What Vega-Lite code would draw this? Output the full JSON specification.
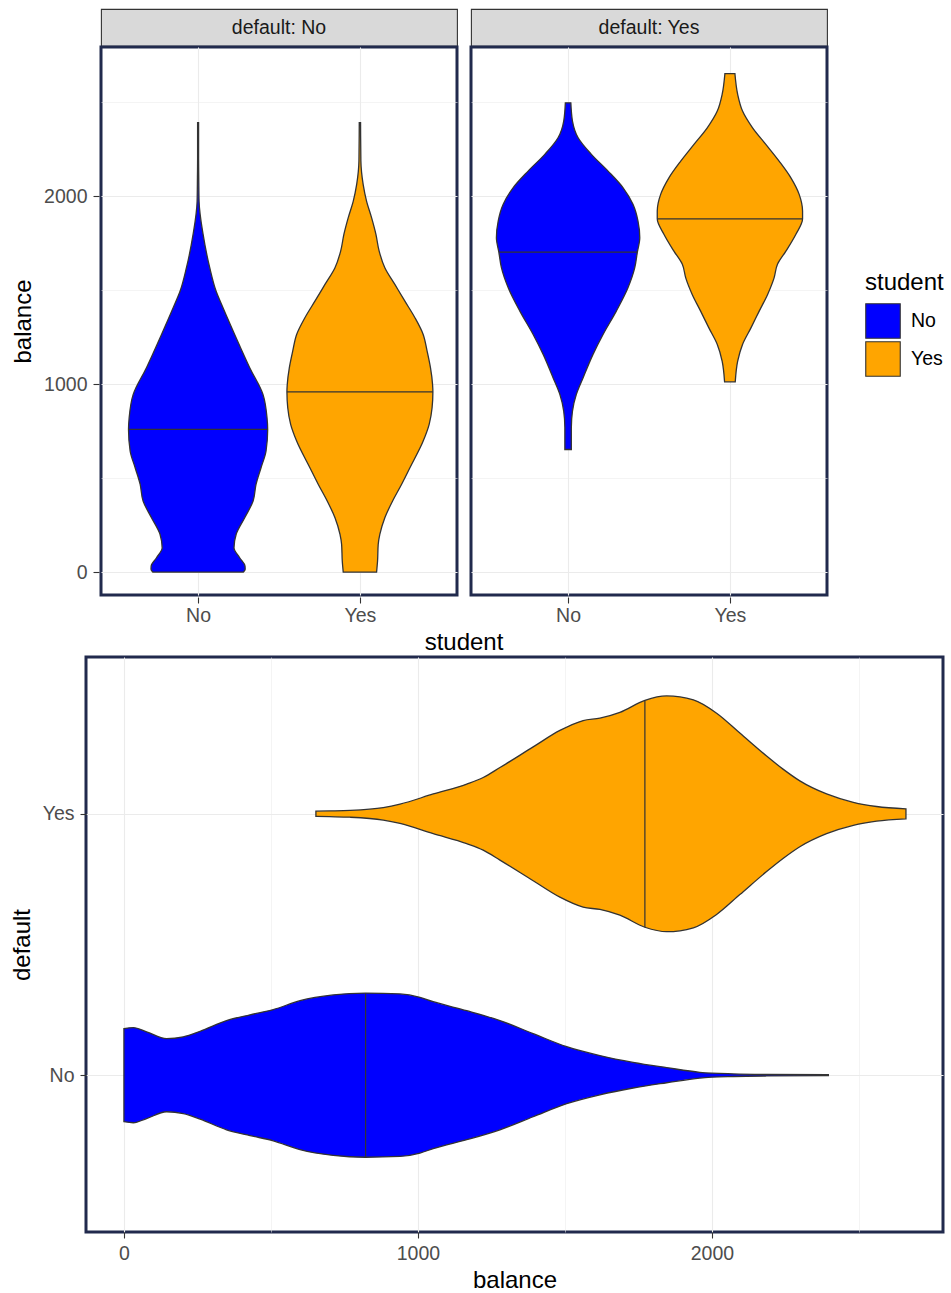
{
  "$schema": "https://vega.github.io/schema/vega-lite/v6.json",
  "background": "white",
  "padding": {"left": 8, "top": 3, "right": 5, "bottom": 5},
  "config": {
    "font": "Liberation Sans",
    "view": {"stroke": "#333333", "strokeWidth": 1.1},
    "axis": {
      "domain": false,
      "gridColor": "#ebebeb",
      "tickColor": "#333333",
      "tickSize": 6,
      "tickWidth": 1.1,
      "labelFontSize": 19.5,
      "labelColor": "#4d4d4d",
      "labelPadding": 6,
      "titleFontSize": 24,
      "titleColor": "#000000",
      "titleFontWeight": "normal",
      "titlePadding": 8
    },
    "legend": {
      "titleFontSize": 24,
      "titleFontWeight": "normal",
      "titleColor": "#000000",
      "labelFontSize": 19.5,
      "labelColor": "#000000"
    }
  },
  "datasets": {
    "strips": [
      {"default": "No", "label": "default: No"},
      {"default": "Yes", "label": "default: Yes"}
    ],
    "top": [
      {"default": "No", "student": "No", "kind": "o", "balance": 0, "hw": 0.280},
      {"default": "No", "student": "No", "kind": "o", "balance": 15, "hw": 0.291},
      {"default": "No", "student": "No", "kind": "o", "balance": 32, "hw": 0.290},
      {"default": "No", "student": "No", "kind": "o", "balance": 76, "hw": 0.257},
      {"default": "No", "student": "No", "kind": "o", "balance": 129, "hw": 0.222},
      {"default": "No", "student": "No", "kind": "o", "balance": 200, "hw": 0.235},
      {"default": "No", "student": "No", "kind": "o", "balance": 289, "hw": 0.288},
      {"default": "No", "student": "No", "kind": "o", "balance": 378, "hw": 0.340},
      {"default": "No", "student": "No", "kind": "o", "balance": 466, "hw": 0.358},
      {"default": "No", "student": "No", "kind": "o", "balance": 555, "hw": 0.389},
      {"default": "No", "student": "No", "kind": "o", "balance": 644, "hw": 0.420},
      {"default": "No", "student": "No", "kind": "o", "balance": 759, "hw": 0.430},
      {"default": "No", "student": "No", "kind": "o", "balance": 821, "hw": 0.426},
      {"default": "No", "student": "No", "kind": "o", "balance": 945, "hw": 0.401},
      {"default": "No", "student": "No", "kind": "o", "balance": 1087, "hw": 0.319},
      {"default": "No", "student": "No", "kind": "o", "balance": 1264, "hw": 0.226},
      {"default": "No", "student": "No", "kind": "o", "balance": 1406, "hw": 0.154},
      {"default": "No", "student": "No", "kind": "o", "balance": 1495, "hw": 0.111},
      {"default": "No", "student": "No", "kind": "o", "balance": 1619, "hw": 0.072},
      {"default": "No", "student": "No", "kind": "o", "balance": 1796, "hw": 0.031},
      {"default": "No", "student": "No", "kind": "o", "balance": 1973, "hw": 0.006},
      {"default": "No", "student": "No", "kind": "o", "balance": 2100, "hw": 0.004},
      {"default": "No", "student": "No", "kind": "o", "balance": 2200, "hw": 0.003},
      {"default": "No", "student": "No", "kind": "o", "balance": 2390, "hw": 0.003},
      {"default": "No", "student": "No", "kind": "m", "balance": 759, "hw": 0.428},

      {"default": "No", "student": "Yes", "kind": "o", "balance": 0, "hw": 0.103},
      {"default": "No", "student": "Yes", "kind": "o", "balance": 59, "hw": 0.109},
      {"default": "No", "student": "Yes", "kind": "o", "balance": 147, "hw": 0.113},
      {"default": "No", "student": "Yes", "kind": "o", "balance": 200, "hw": 0.123},
      {"default": "No", "student": "Yes", "kind": "o", "balance": 289, "hw": 0.154},
      {"default": "No", "student": "Yes", "kind": "o", "balance": 378, "hw": 0.202},
      {"default": "No", "student": "Yes", "kind": "o", "balance": 466, "hw": 0.257},
      {"default": "No", "student": "Yes", "kind": "o", "balance": 555, "hw": 0.309},
      {"default": "No", "student": "Yes", "kind": "o", "balance": 697, "hw": 0.391},
      {"default": "No", "student": "Yes", "kind": "o", "balance": 786, "hw": 0.428},
      {"default": "No", "student": "Yes", "kind": "o", "balance": 874, "hw": 0.446},
      {"default": "No", "student": "Yes", "kind": "o", "balance": 959, "hw": 0.451},
      {"default": "No", "student": "Yes", "kind": "o", "balance": 998, "hw": 0.449},
      {"default": "No", "student": "Yes", "kind": "o", "balance": 1087, "hw": 0.436},
      {"default": "No", "student": "Yes", "kind": "o", "balance": 1176, "hw": 0.415},
      {"default": "No", "student": "Yes", "kind": "o", "balance": 1264, "hw": 0.391},
      {"default": "No", "student": "Yes", "kind": "o", "balance": 1353, "hw": 0.340},
      {"default": "No", "student": "Yes", "kind": "o", "balance": 1441, "hw": 0.278},
      {"default": "No", "student": "Yes", "kind": "o", "balance": 1530, "hw": 0.216},
      {"default": "No", "student": "Yes", "kind": "o", "balance": 1619, "hw": 0.154},
      {"default": "No", "student": "Yes", "kind": "o", "balance": 1707, "hw": 0.119},
      {"default": "No", "student": "Yes", "kind": "o", "balance": 1796, "hw": 0.099},
      {"default": "No", "student": "Yes", "kind": "o", "balance": 1885, "hw": 0.072},
      {"default": "No", "student": "Yes", "kind": "o", "balance": 1973, "hw": 0.041},
      {"default": "No", "student": "Yes", "kind": "o", "balance": 2062, "hw": 0.020},
      {"default": "No", "student": "Yes", "kind": "o", "balance": 2186, "hw": 0.006},
      {"default": "No", "student": "Yes", "kind": "o", "balance": 2390, "hw": 0.004},
      {"default": "No", "student": "Yes", "kind": "m", "balance": 959, "hw": 0.451},

      {"default": "Yes", "student": "No", "kind": "o", "balance": 652, "hw": 0.020},
      {"default": "Yes", "student": "No", "kind": "o", "balance": 768, "hw": 0.020},
      {"default": "Yes", "student": "No", "kind": "o", "balance": 856, "hw": 0.027},
      {"default": "Yes", "student": "No", "kind": "o", "balance": 945, "hw": 0.051},
      {"default": "Yes", "student": "No", "kind": "o", "balance": 1034, "hw": 0.093},
      {"default": "Yes", "student": "No", "kind": "o", "balance": 1158, "hw": 0.154},
      {"default": "Yes", "student": "No", "kind": "o", "balance": 1264, "hw": 0.216},
      {"default": "Yes", "student": "No", "kind": "o", "balance": 1388, "hw": 0.298},
      {"default": "Yes", "student": "No", "kind": "o", "balance": 1512, "hw": 0.370},
      {"default": "Yes", "student": "No", "kind": "o", "balance": 1619, "hw": 0.412},
      {"default": "Yes", "student": "No", "kind": "o", "balance": 1702, "hw": 0.428},
      {"default": "Yes", "student": "No", "kind": "o", "balance": 1778, "hw": 0.443},
      {"default": "Yes", "student": "No", "kind": "o", "balance": 1867, "hw": 0.432},
      {"default": "Yes", "student": "No", "kind": "o", "balance": 1956, "hw": 0.401},
      {"default": "Yes", "student": "No", "kind": "o", "balance": 2044, "hw": 0.340},
      {"default": "Yes", "student": "No", "kind": "o", "balance": 2133, "hw": 0.247},
      {"default": "Yes", "student": "No", "kind": "o", "balance": 2222, "hw": 0.144},
      {"default": "Yes", "student": "No", "kind": "o", "balance": 2310, "hw": 0.062},
      {"default": "Yes", "student": "No", "kind": "o", "balance": 2399, "hw": 0.027},
      {"default": "Yes", "student": "No", "kind": "o", "balance": 2496, "hw": 0.017},
      {"default": "Yes", "student": "No", "kind": "m", "balance": 1702, "hw": 0.426},

      {"default": "Yes", "student": "Yes", "kind": "o", "balance": 1012, "hw": 0.033},
      {"default": "Yes", "student": "Yes", "kind": "o", "balance": 1122, "hw": 0.048},
      {"default": "Yes", "student": "Yes", "kind": "o", "balance": 1211, "hw": 0.078},
      {"default": "Yes", "student": "Yes", "kind": "o", "balance": 1299, "hw": 0.130},
      {"default": "Yes", "student": "Yes", "kind": "o", "balance": 1388, "hw": 0.181},
      {"default": "Yes", "student": "Yes", "kind": "o", "balance": 1477, "hw": 0.233},
      {"default": "Yes", "student": "Yes", "kind": "o", "balance": 1565, "hw": 0.273},
      {"default": "Yes", "student": "Yes", "kind": "o", "balance": 1637, "hw": 0.294},
      {"default": "Yes", "student": "Yes", "kind": "o", "balance": 1707, "hw": 0.346},
      {"default": "Yes", "student": "Yes", "kind": "o", "balance": 1796, "hw": 0.407},
      {"default": "Yes", "student": "Yes", "kind": "o", "balance": 1879, "hw": 0.449},
      {"default": "Yes", "student": "Yes", "kind": "o", "balance": 1920, "hw": 0.449},
      {"default": "Yes", "student": "Yes", "kind": "o", "balance": 2009, "hw": 0.428},
      {"default": "Yes", "student": "Yes", "kind": "o", "balance": 2097, "hw": 0.377},
      {"default": "Yes", "student": "Yes", "kind": "o", "balance": 2186, "hw": 0.304},
      {"default": "Yes", "student": "Yes", "kind": "o", "balance": 2275, "hw": 0.222},
      {"default": "Yes", "student": "Yes", "kind": "o", "balance": 2363, "hw": 0.140},
      {"default": "Yes", "student": "Yes", "kind": "o", "balance": 2452, "hw": 0.078},
      {"default": "Yes", "student": "Yes", "kind": "o", "balance": 2541, "hw": 0.048},
      {"default": "Yes", "student": "Yes", "kind": "o", "balance": 2651, "hw": 0.031},
      {"default": "Yes", "student": "Yes", "kind": "m", "balance": 1879, "hw": 0.449}
    ],
    "bottom": [
      {"default": "No", "kind": "o", "balance": 0, "hw": 0.178},
      {"default": "No", "kind": "o", "balance": 32, "hw": 0.182},
      {"default": "No", "kind": "o", "balance": 77, "hw": 0.166},
      {"default": "No", "kind": "o", "balance": 145, "hw": 0.140},
      {"default": "No", "kind": "o", "balance": 202, "hw": 0.147},
      {"default": "No", "kind": "o", "balance": 259, "hw": 0.168},
      {"default": "No", "kind": "o", "balance": 349, "hw": 0.209},
      {"default": "No", "kind": "o", "balance": 429, "hw": 0.231},
      {"default": "No", "kind": "o", "balance": 508, "hw": 0.251},
      {"default": "No", "kind": "o", "balance": 599, "hw": 0.285},
      {"default": "No", "kind": "o", "balance": 712, "hw": 0.307},
      {"default": "No", "kind": "o", "balance": 822, "hw": 0.314},
      {"default": "No", "kind": "o", "balance": 939, "hw": 0.311},
      {"default": "No", "kind": "o", "balance": 1007, "hw": 0.298},
      {"default": "No", "kind": "o", "balance": 1052, "hw": 0.281},
      {"default": "No", "kind": "o", "balance": 1166, "hw": 0.247},
      {"default": "No", "kind": "o", "balance": 1279, "hw": 0.209},
      {"default": "No", "kind": "o", "balance": 1392, "hw": 0.159},
      {"default": "No", "kind": "o", "balance": 1506, "hw": 0.109},
      {"default": "No", "kind": "o", "balance": 1619, "hw": 0.075},
      {"default": "No", "kind": "o", "balance": 1732, "hw": 0.049},
      {"default": "No", "kind": "o", "balance": 1846, "hw": 0.029},
      {"default": "No", "kind": "o", "balance": 1959, "hw": 0.011},
      {"default": "No", "kind": "o", "balance": 2073, "hw": 0.005},
      {"default": "No", "kind": "o", "balance": 2186, "hw": 0.003},
      {"default": "No", "kind": "o", "balance": 2396, "hw": 0.002},
      {"default": "No", "kind": "m", "balance": 822, "hw": 0.314},

      {"default": "Yes", "kind": "o", "balance": 653, "hw": 0.010},
      {"default": "Yes", "kind": "o", "balance": 700, "hw": 0.011},
      {"default": "Yes", "kind": "o", "balance": 769, "hw": 0.013},
      {"default": "Yes", "kind": "o", "balance": 882, "hw": 0.024},
      {"default": "Yes", "kind": "o", "balance": 939, "hw": 0.037},
      {"default": "Yes", "kind": "o", "balance": 1052, "hw": 0.076},
      {"default": "Yes", "kind": "o", "balance": 1166, "hw": 0.114},
      {"default": "Yes", "kind": "o", "balance": 1222, "hw": 0.139},
      {"default": "Yes", "kind": "o", "balance": 1279, "hw": 0.177},
      {"default": "Yes", "kind": "o", "balance": 1392, "hw": 0.256},
      {"default": "Yes", "kind": "o", "balance": 1483, "hw": 0.319},
      {"default": "Yes", "kind": "o", "balance": 1562, "hw": 0.357},
      {"default": "Yes", "kind": "o", "balance": 1619, "hw": 0.366},
      {"default": "Yes", "kind": "o", "balance": 1687, "hw": 0.388},
      {"default": "Yes", "kind": "o", "balance": 1772, "hw": 0.434},
      {"default": "Yes", "kind": "o", "balance": 1846, "hw": 0.451},
      {"default": "Yes", "kind": "o", "balance": 1937, "hw": 0.436},
      {"default": "Yes", "kind": "o", "balance": 2016, "hw": 0.385},
      {"default": "Yes", "kind": "o", "balance": 2095, "hw": 0.309},
      {"default": "Yes", "kind": "o", "balance": 2186, "hw": 0.221},
      {"default": "Yes", "kind": "o", "balance": 2243, "hw": 0.170},
      {"default": "Yes", "kind": "o", "balance": 2299, "hw": 0.126},
      {"default": "Yes", "kind": "o", "balance": 2390, "hw": 0.076},
      {"default": "Yes", "kind": "o", "balance": 2481, "hw": 0.044},
      {"default": "Yes", "kind": "o", "balance": 2560, "hw": 0.028},
      {"default": "Yes", "kind": "o", "balance": 2660, "hw": 0.019},
      {"default": "Yes", "kind": "m", "balance": 1772, "hw": 0.434}
    ]
  },
  "resolve": {"scale": {"fill": "independent"}, "legend": {"fill": "independent"}},
  "spacing": 0,
  "vconcat": [
    {
      "spacing": -76,
      "hconcat": [
        {
          "data": {"values": [{"x": 0}]},
          "width": 1,
          "height": 1,
          "view": {"stroke": null},
          "mark": {"type": "text", "text": ""},
          "encoding": {}
        },
        {
          "spacing": -3,
          "vconcat": [
            {
              "data": {"name": "strips"},
              "facet": {"column": {"field": "default", "type": "nominal", "header": null}},
              "spacing": 12,
              "spec": {
                "width": 356,
                "height": 37,
                "view": {"fill": "#d9d9d9", "stroke": "#333333", "strokeWidth": 1.1},
                "mark": {"type": "text", "fontSize": 19.5, "color": "#1a1a1a", "font": "Liberation Sans"},
                "encoding": {"text": {"field": "label", "type": "nominal"}}
              }
            },
            {
              "data": {"name": "top"},
              "facet": {
                "column": {
                  "field": "default",
                  "type": "nominal",
                  "header": {"labels": false, "title": "student", "titleOrient": "bottom", "titleFontSize": 24, "titleFontWeight": "normal", "titleColor": "#000000", "titlePadding": -4}
                }
              },
              "spacing": 10,
              "spec": {
                "width": 356,
                "height": 548,
                "view": {"stroke": "#212a4d", "strokeWidth": 3},
                "transform": [
                  {"calculate": "(datum.student === 'No' ? 1 : 2) - datum.hw", "as": "lo"},
                  {"calculate": "(datum.student === 'No' ? 1 : 2) + datum.hw", "as": "hi"}
                ],
                "layer": [
                  {
                    "transform": [{"filter": "datum.kind === 'o'"}],
                    "mark": {"type": "area", "orient": "horizontal", "interpolate": "monotone", "stroke": "#333333", "strokeWidth": 1.3, "fillOpacity": 1},
                    "encoding": {
                      "y": {
                        "field": "balance", "type": "quantitative",
                        "scale": {"domain": [-122, 2793], "nice": false, "zero": false},
                        "axis": {
                          "title": "balance",
                          "format": "d",
                          "values": [0, 500, 1000, 1500, 2000, 2500],
                          "labelExpr": "datum.value % 1000 === 0 ? datum.label : ''",
                          "tickOpacity": {"condition": {"test": "datum.value % 1000 === 0", "value": 1}, "value": 0},
                          "gridWidth": {"condition": {"test": "datum.value % 1000 === 0", "value": 1.1}, "value": 0.55}
                        }
                      },
                      "x": {
                        "field": "lo", "type": "quantitative",
                        "scale": {"domain": [0.4, 2.6], "nice": false, "zero": false},
                        "axis": {"title": null, "values": [1, 2], "labelPadding": 3, "labelExpr": "datum.value === 1 ? 'No' : 'Yes'", "gridWidth": 1.1}
                      },
                      "x2": {"field": "hi"},
                      "fill": {
                        "field": "student", "type": "nominal",
                        "scale": {"domain": ["No", "Yes"], "range": ["#0000ff", "#ffa500"]},
                        "legend": {
                          "title": "student",
                          "orient": "none",
                          "legendX": 779,
                          "legendY": 262,
                          "symbolType": "square",
                          "symbolSize": 1190,
                          "symbolStrokeColor": "#333333",
                          "symbolStrokeWidth": 1.1,
                          "symbolFillOpacity": 1,
                          "rowPadding": -5,
                          "labelOffset": 10,
                          "titlePadding": 8
                        }
                      }
                    }
                  },
                  {
                    "transform": [{"filter": "datum.kind === 'm'"}],
                    "mark": {"type": "rule", "color": "#333333", "strokeWidth": 1.2},
                    "encoding": {
                      "y": {"field": "balance", "type": "quantitative"},
                      "x": {"field": "lo", "type": "quantitative"},
                      "x2": {"field": "hi"}
                    }
                  }
                ]
              }
            }
          ]
        }
      ]
    },
    {
      "data": {"name": "bottom"},
      "width": 857,
      "height": 575,
      "view": {"stroke": "#212a4d", "strokeWidth": 3},
      "transform": [
        {"calculate": "(datum['default'] === 'No' ? 1 : 2) - datum.hw", "as": "lo"},
        {"calculate": "(datum['default'] === 'No' ? 1 : 2) + datum.hw", "as": "hi"}
      ],
      "layer": [
        {
          "transform": [{"filter": "datum.kind === 'o'"}],
          "mark": {"type": "area", "orient": "vertical", "interpolate": "monotone", "stroke": "#333333", "strokeWidth": 1.3, "fillOpacity": 1},
          "encoding": {
            "x": {
              "field": "balance", "type": "quantitative",
              "scale": {"domain": [-129, 2786], "nice": false, "zero": false},
              "axis": {
                "title": "balance",
                "titlePadding": 6,
                "labelPadding": 6,
                "format": "d",
                "values": [0, 500, 1000, 1500, 2000, 2500],
                "labelExpr": "datum.value % 1000 === 0 ? datum.label : ''",
                "tickOpacity": {"condition": {"test": "datum.value % 1000 === 0", "value": 1}, "value": 0},
                "gridWidth": {"condition": {"test": "datum.value % 1000 === 0", "value": 1.1}, "value": 0.55}
              }
            },
            "y": {
              "field": "lo", "type": "quantitative",
              "scale": {"domain": [0.4, 2.6], "nice": false, "zero": false},
              "axis": {"title": "default", "values": [1, 2], "labelExpr": "datum.value === 1 ? 'No' : 'Yes'", "gridWidth": 1.1}
            },
            "y2": {"field": "hi"},
            "fill": {
              "field": "default", "type": "nominal",
              "scale": {"domain": ["No", "Yes"], "range": ["#0000ff", "#ffa500"]},
              "legend": null
            }
          }
        },
        {
          "transform": [{"filter": "datum.kind === 'm'"}],
          "mark": {"type": "rule", "color": "#333333", "strokeWidth": 1.2},
          "encoding": {
            "x": {"field": "balance", "type": "quantitative"},
            "y": {"field": "lo", "type": "quantitative"},
            "y2": {"field": "hi"}
          }
        }
      ]
    }
  ]
}
